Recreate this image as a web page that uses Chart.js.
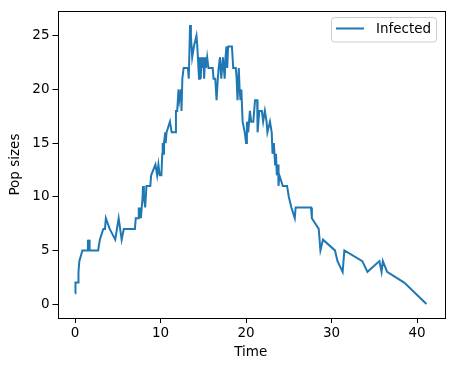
<!DOCTYPE html>
<html>
<head>
<meta charset="utf-8">
<script src="https://cdn.jsdelivr.net/npm/chart.js@4"></script>
<style>
  html, body { margin: 0; padding: 0; background: #fff; }
  #wrap { width: 454px; height: 371px; }
</style>
</head>
<body>
<div id="wrap"><canvas id="chart_1"></canvas></div>
<script>
// dados
const times = [0, 0.02, 0.05, 0.07, 0.35, 0.4, 0.5, 0.86, 1.4, 1.5, 1.55, 1.65, 1.7, 2.7, 2.9, 3.3, 3.5, 3.6, 4.05, 4.7,
  5.1, 5.45, 5.7, 7.0, 7.1, 7.4, 7.45, 7.55, 7.6, 7.7, 7.9, 7.95, 8.05, 8.2, 8.35, 8.8, 8.9, 9.4, 9.6, 9.75,
  9.9, 10.1, 10.2, 10.25, 10.35, 10.4, 10.55, 10.6, 10.7, 11.1, 11.3, 11.7, 11.8, 11.95, 12.1, 12.2, 12.4, 12.45, 12.55, 12.7,
  13.2, 13.3, 13.45, 13.55, 13.7, 13.9, 14.2, 14.3, 14.5, 14.6, 14.7, 14.8, 14.9, 15.0, 15.1, 15.2, 15.3, 15.45, 15.6, 16.1,
  16.2, 16.4, 16.55, 16.7, 16.8, 16.95, 17.1, 17.3, 17.5, 17.6, 17.7, 17.8, 17.9, 18.35, 18.5, 18.8, 18.9, 19.0, 19.15, 19.25,
  19.35, 19.45, 19.6, 19.85, 20.0, 20.1, 20.25, 20.45, 20.6, 20.85, 21.05, 21.3, 21.35, 21.55, 21.85, 22.0, 22.2, 22.4, 22.5, 22.8,
  23.0, 23.1, 23.25, 23.4, 23.5, 23.6, 23.75, 23.8, 23.9, 24.3, 24.8, 25.0, 25.3, 25.7, 25.8, 27.6, 27.7, 28.5, 28.7, 29.0,
  30.4, 30.7, 31.3, 31.5, 33.6, 34.2, 35.6, 35.85, 36.0, 36.5, 38.5, 41.1];
const infected = [1, 2, 1, 2, 2, 3, 4, 5, 5, 6, 5, 6, 5, 5, 6, 7, 7, 8, 7, 6,
  8, 6, 7, 7, 8, 8, 9, 8, 9, 8, 10, 11, 10, 9, 11, 11, 12, 13, 12, 13,
  12, 12, 14, 15, 14, 15, 16, 15, 16, 17, 16, 16, 18, 18, 20, 19, 20, 18, 21, 22,
  22, 21, 26, 25, 23, 24, 25, 24, 21, 23, 21, 23, 22, 23, 21, 23, 22, 23, 22, 22,
  21, 21, 19, 21, 22, 23, 21, 23, 21, 23, 24, 22, 24, 24, 22, 22, 21, 19, 22, 20,
  19, 20, 17, 16, 15, 17, 16, 18, 17, 17, 19, 19, 16, 18, 18, 17, 18, 17, 16, 17,
  16, 14, 15, 13, 14, 12, 13, 11, 12, 11, 11, 10, 9, 8, 9, 9, 8, 7, 5, 6,
  5, 4, 3, 5, 4, 3, 4, 3, 4, 3, 2, 0];
const xTicks = [0, 10, 20, 30, 40];
const yTicks = [0, 5, 10, 15, 20, 25];

const fonte = { family: 'DejaVu Sans', size: 13.5 };
const azul = '#1f77b4';

// moldura dos eixos + legenda
const moldura = {
    id: 'moldura',
    afterDraw(chart) {
        const ctx = chart.ctx;
        const a = chart.chartArea;
        ctx.save();
        ctx.strokeStyle = '#000';
        ctx.lineWidth = 1;
        ctx.strokeRect(Math.round(a.left) + 0.5, Math.round(a.top) + 0.5,
            Math.round(a.right - a.left), Math.round(a.bottom - a.top));

        // legenda
        const x0 = 331.5, y0 = 17.5, w = 105, h = 24.5;
        ctx.fillStyle = 'rgba(255,255,255,0.8)';
        ctx.strokeStyle = '#cccccc';
        ctx.beginPath();
        ctx.roundRect(x0, y0, w, h, 3);
        ctx.fill();
        ctx.stroke();
        ctx.strokeStyle = azul;
        ctx.lineWidth = 2;
        ctx.beginPath();
        ctx.moveTo(336, 28.5);
        ctx.lineTo(364, 28.5);
        ctx.stroke();
        ctx.fillStyle = '#000';
        ctx.font = '13.5px "DejaVu Sans"';
        ctx.textBaseline = 'middle';
        ctx.fillText(chart.data.datasets[0].label, 376, 29.5);
        ctx.restore();
    }
};

const chart_1 = document.getElementById('chart_1').getContext('2d');
const chart1 = new Chart(chart_1, {
    type: 'line',
    data: {
        datasets: [{
            label: 'Infected',
            data: times.map((t, i) => ({ x: t, y: infected[i] })),
            borderColor: azul,
            borderWidth: 2,
            pointRadius: 0,
            tension: 0,
            fill: false
        }]
    },
    options: {
        responsive: true,
        maintainAspectRatio: false,
        animation: false,
        devicePixelRatio: 1,
        layout: { padding: { top: 10.5, right: 10, left: 0, bottom: 0 } },
        plugins: {
            legend: { display: false },
            tooltip: { enabled: false }
        },
        scales: {
            x: {
                type: 'linear',
                min: -2.055,
                max: 43.155,
                afterFit(s) { s.height = 53; },
                afterBuildTicks(s) { s.ticks = xTicks.map(v => ({ value: v })); },
                grid: { drawOnChartArea: false, tickLength: 5, tickColor: '#000' },
                border: { display: false },
                ticks: { font: fonte, color: '#000', padding: 2, maxRotation: 0 },
                title: { display: true, text: 'Time', font: fonte, color: '#000', padding: { top: 0, bottom: 10 } }
            },
            y: {
                type: 'linear',
                min: -1.3,
                max: 27.3,
                afterFit(s) { s.width = 57.5; },
                afterBuildTicks(s) { s.ticks = yTicks.map(v => ({ value: v })); },
                grid: { drawOnChartArea: false, tickLength: 5, tickColor: '#000' },
                border: { display: false },
                ticks: { font: fonte, color: '#000', padding: 3 },
                title: { display: true, text: 'Pop sizes', font: fonte, color: '#000', padding: { top: 7, bottom: 0 } }
            }
        }
    },
    plugins: [moldura]
});
</script>
</body>
</html>
